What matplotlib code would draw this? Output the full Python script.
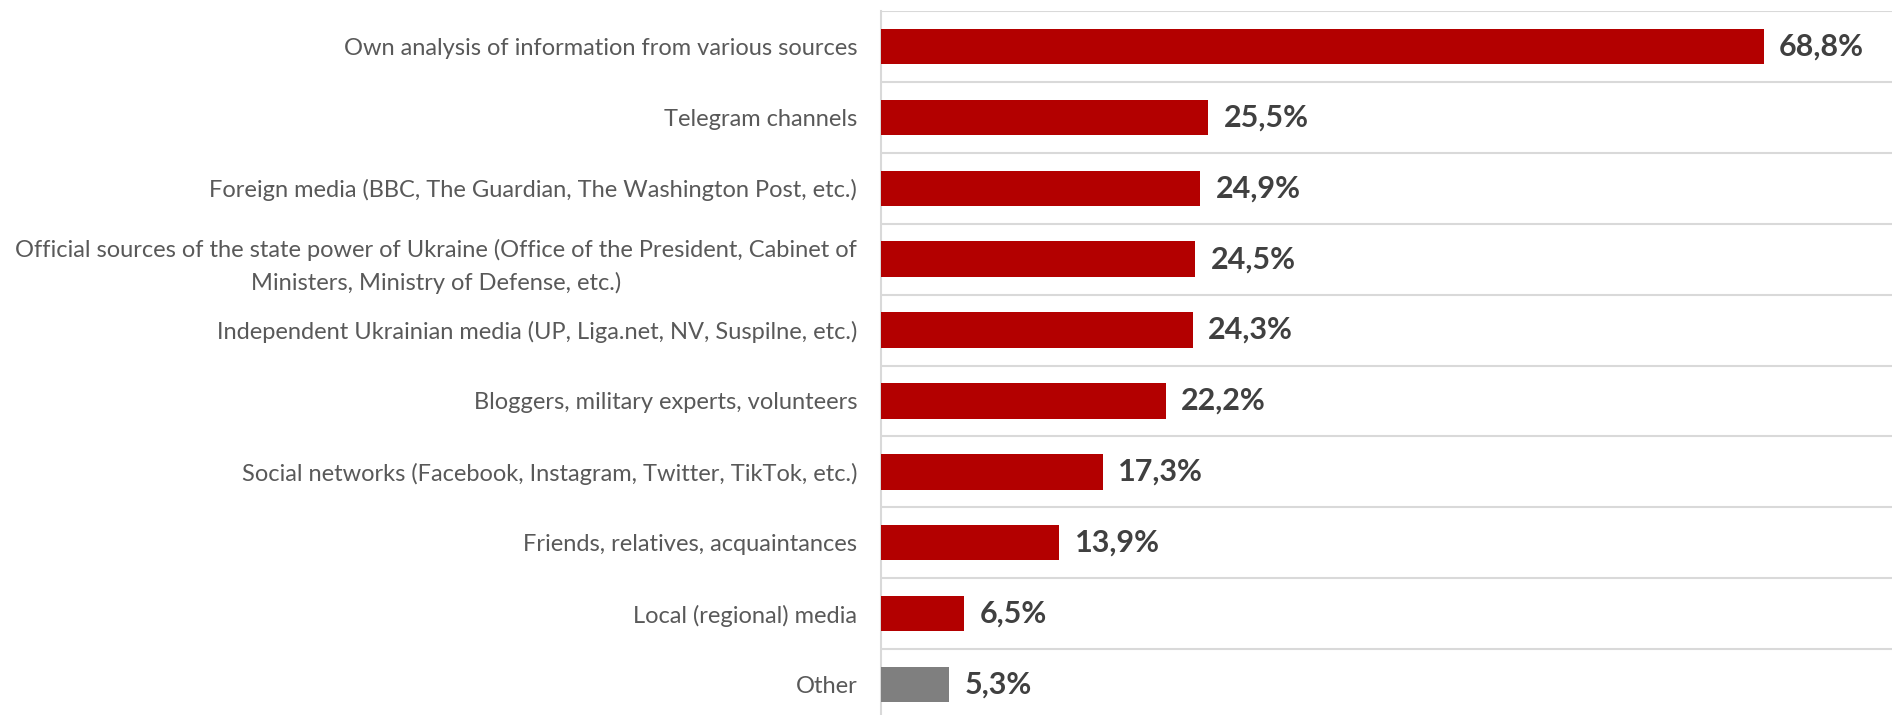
import matplotlib.pyplot as plt
import numpy as np

plt.rcParams['font.family'] = ['Lato', 'DejaVu Sans']

categories = [
    'Own analysis of information from various sources',
    'Telegram channels',
    'Foreign media (BBC, The Guardian, The Washington Post, etc.)',
    'Official sources of the state power of Ukraine (Office of the President, Cabinet of\nMinisters, Ministry of Defense, etc.)',
    'Independent Ukrainian media (UP, Liga.net, NV, Suspilne, etc.)',
    'Bloggers, military experts, volunteers',
    'Social networks (Facebook, Instagram, Twitter, TikTok, etc.)',
    'Friends, relatives, acquaintances',
    'Local (regional) media',
    'Other',
]
values = [68.8, 25.5, 24.9, 24.5, 24.3, 22.2, 17.3, 13.9, 6.5, 5.3]
colors = ['#b30000'] * 9 + ['#7f7f7f']

fig = plt.figure(figsize=(18.92, 7.15), dpi=100)
ax = fig.add_axes([0.4656, -0.007, 0.5344, 0.9916])

y = np.arange(len(categories))
bars = ax.barh(y, values, height=0.5, color=colors, zorder=3)

for b, v in zip(bars, values):
    ax.annotate(f'{v:.1f}%'.replace('.', ','), (b.get_width(), b.get_y() + b.get_height() / 2),
                xytext=(11, 0), textcoords='offset points', va='center', ha='left',
                fontsize=22, fontweight='bold', color='#404040')

ax.set_ylim(len(categories) - 0.5, -0.5)
ax.set_xlim(0, 78.8)
ax.set_yticks(y)
ax.set_yticklabels(categories, fontsize=17, color='#595959', linespacing=1.6)
for lab in ax.get_yticklabels():
    lab.set_multialignment('center')
ax.set_yticks(np.arange(-0.5, len(categories) - 1, 1), minor=True)
ax.grid(axis='y', which='minor', color='#d9d9d9', linewidth=1.5, zorder=0)
ax.tick_params(axis='y', which='both', length=0)
ax.tick_params(axis='y', which='major', pad=17)
ax.set_xticks([])

for s in ['top', 'right', 'bottom']:
    ax.spines[s].set_visible(False)
ax.spines['left'].set_color('#d9d9d9')
ax.spines['left'].set_linewidth(1.5)

fig.savefig('out.png', dpi=100)
